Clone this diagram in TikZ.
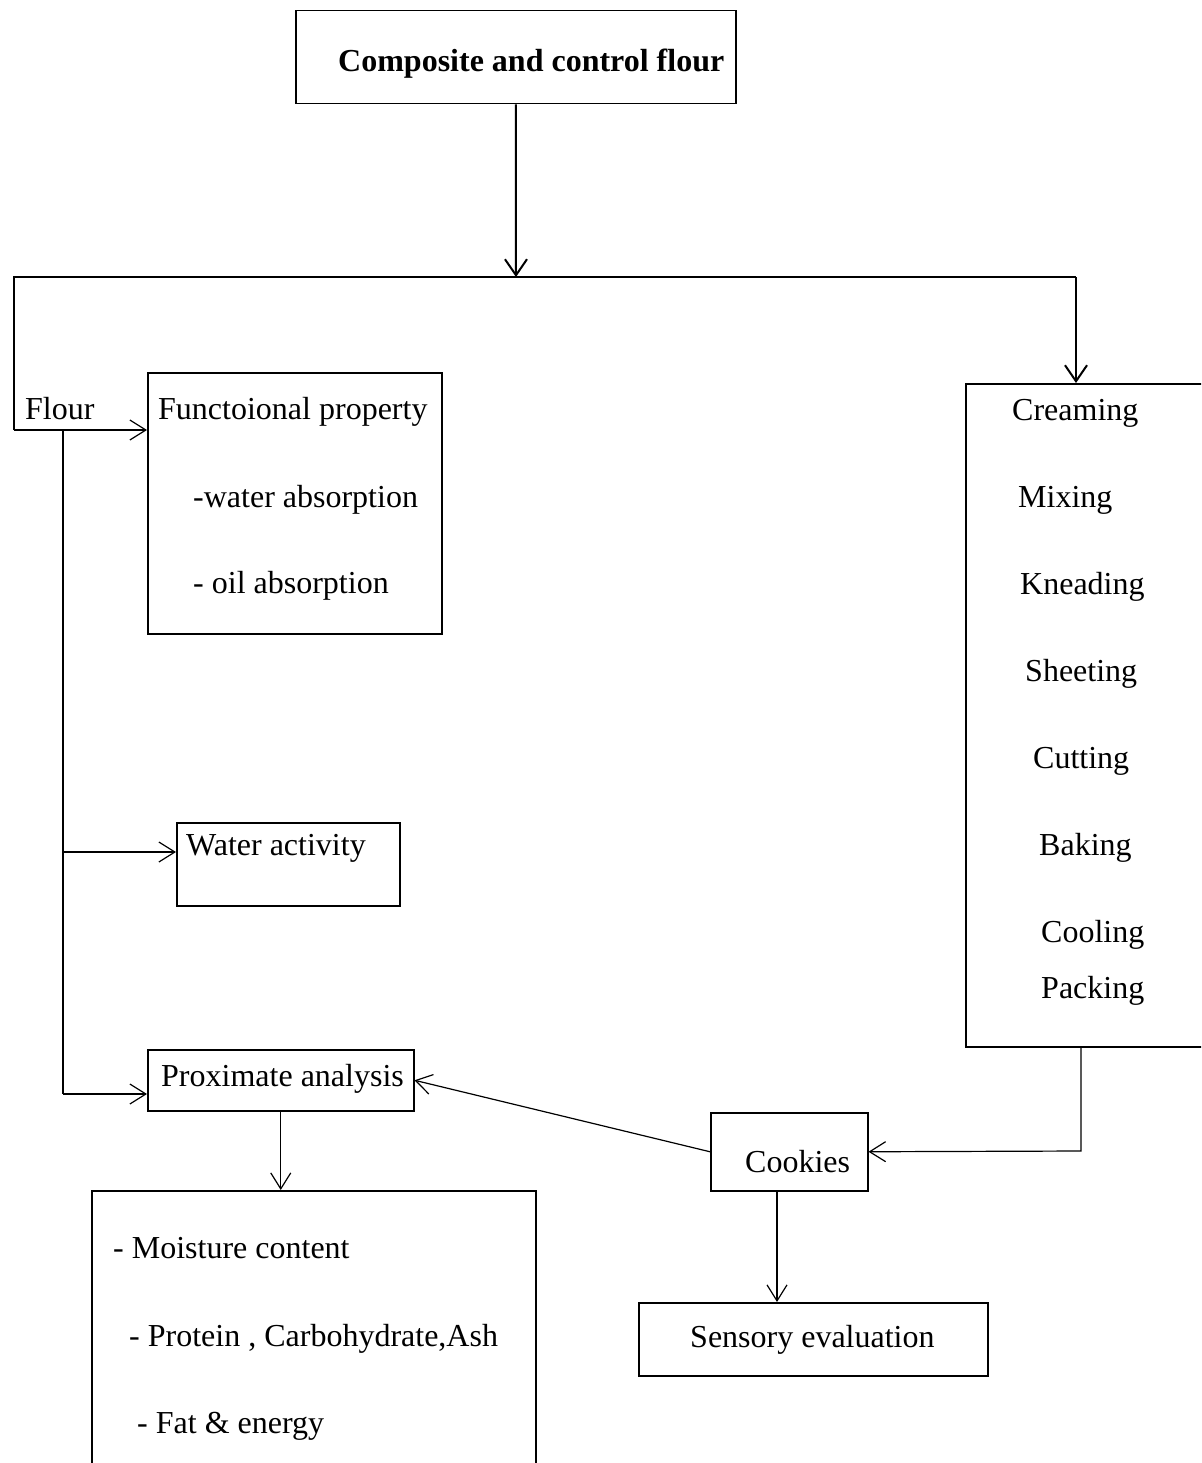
\documentclass[tikz,border=0pt]{standalone}
\usepackage{fontspec}
\setmainfont{Liberation Serif}
\usetikzlibrary{positioning,arrows.meta,calc}

\begin{document}
\begin{tikzpicture}[
  x=1pt, y=-1pt,
  font=\fontsize{32}{38}\selectfont,
  boxnode/.style={draw, line width=1.5pt, anchor=north west, inner sep=0pt},
  txt/.style={anchor=base west, inner sep=0pt},
  mainline/.style={line width=2pt},
  mainarr/.style={line width=2pt, -{Straight Barb[length=16pt,width=22pt]}},
  subline/.style={line width=1.2pt},
  subarr/.style={line width=1.2pt, -{Straight Barb[length=16pt,width=20pt]}},
]
\useasboundingbox (0,0) rectangle (1201,1463);
\clip (0,0) rectangle (1201,1463);

% boxes (open ones run past the page edge)
\node[boxnode, minimum width=440pt, minimum height=93pt]  (comp)    at (295,10)   {};
\node[boxnode, minimum width=294pt, minimum height=261pt] (func)    at (147,372)  {};
\node[boxnode, minimum width=223pt, minimum height=83pt]  (water)   at (176,822)  {};
\node[boxnode, minimum width=266pt, minimum height=61pt]  (prox)    at (147,1049) {};
\node[boxnode, minimum width=444pt, minimum height=320pt] (list)    at (91,1190)  {};
\node[boxnode, minimum width=260pt, minimum height=663pt] (cream)   at (965,383)  {};
\node[boxnode, minimum width=157pt, minimum height=78pt]  (cookies) at (710,1112) {};
\node[boxnode, minimum width=349pt, minimum height=73pt]  (sens)    at (638,1302) {};

% texts
\node[txt, font=\fontsize{32}{38}\selectfont\bfseries] (comptxt) at (338,72) {Composite and control flour};
\node[txt] (flour)    at (25,419)   {Flour};
\node[txt] (functxt)  at (158,419)  {Functoional property};
\node[txt] (wabs)     at (193,507)  {-water absorption};
\node[txt] (oabs)     at (193,593)  {- oil absorption};
\node[txt] (watertxt) at (186,855)  {Water activity};
\node[txt] (proxtxt)  at (161,1086) {Proximate analysis};
\node[txt] (moist)    at (113,1258) {- Moisture content};
\node[txt] (prot)     at (129,1346) {- Protein , Carbohydrate,Ash};
\node[txt] (fat)      at (137,1433) {- Fat \& energy};
\node[txt] (cooktxt)  at (745,1172) {Cookies};
\node[txt] (senstxt)  at (690,1347) {Sensory evaluation};
\foreach \i/\x/\y/\t in {1/1012/420/Creaming, 2/1018/507/Mixing, 3/1020/594/Kneading,
    4/1025/681/Sheeting, 5/1033/768/Cutting, 6/1039/855/Baking,
    7/1041/942/Cooling, 8/1041/998/Packing}
  \node[txt] (proc\i) at (\x,\y) {\t};

% split line under the top box
\coordinate (split)   at (516,277);
\coordinate (lcorner) at (14,277);
\coordinate (rcorner) at (1076,277);
\coordinate (flin)    at (14,430);
\draw[mainarr] (comp.south) -- (split);
\draw[mainline] (flin) -- (lcorner) -- (rcorner);
\draw[mainarr] (rcorner) -- (rcorner |- cream.north);
\draw[subarr] (flin) -- (func.west |- flin);

% flour branches
\coordinate (ftop) at (63,430);
\coordinate (fwat) at (63,852);
\coordinate (fbot) at (63,1094);
\draw[subline] (ftop) -- (fbot);
\draw[subarr] (fwat) -- (water.west |- fwat);
\draw[subarr] (fbot) -- (prox.west |- fbot);
\draw[subarr] (prox.south) -- (prox.south |- list.north);

% process side
\coordinate (cbend) at (1081,1151);
\coordinate (cs)    at (777,1190);
\draw[subarr] (cream.south -| cbend) -- (cbend) -- (cookies.east);
\draw[subarr] (cookies.west) -- (prox.east);
\draw[subarr] (cs) -- (cs |- sens.north);
\end{tikzpicture}
\end{document}
